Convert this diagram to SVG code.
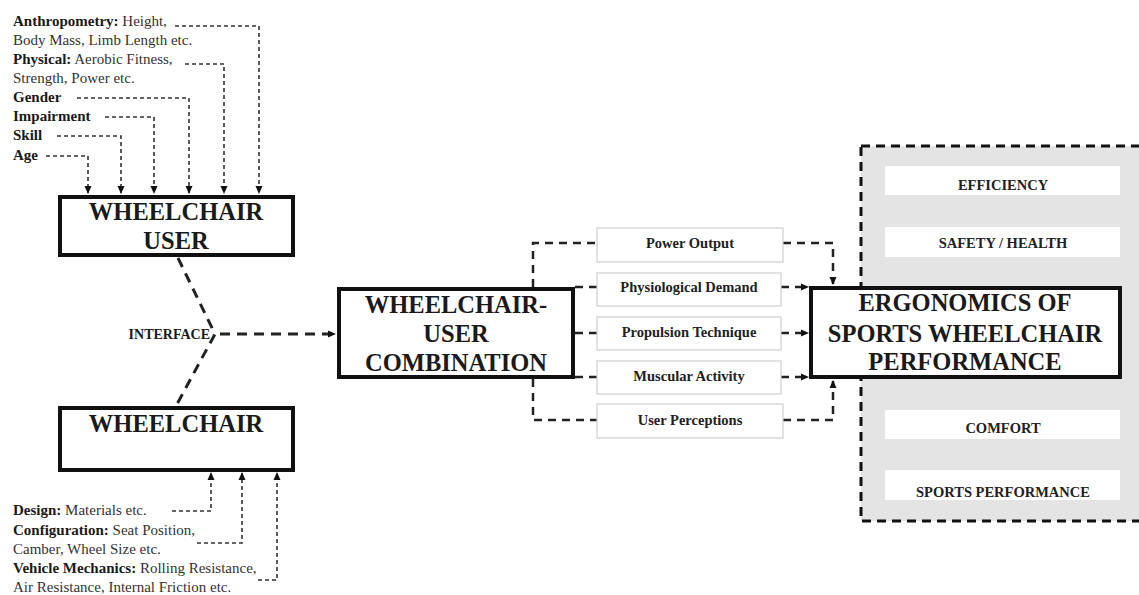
<svg xmlns="http://www.w3.org/2000/svg" width="1139" height="595" viewBox="0 0 1139 595">
<defs>
<marker id="ah" markerUnits="userSpaceOnUse" markerWidth="8" markerHeight="8" viewBox="0 0 8 8" refX="7" refY="4" orient="auto">
<path d="M0,0.5 L8,4 L0,7.5 Z" fill="#111"/>
</marker>
<style>
.t{font-family:"Liberation Serif","Times New Roman",serif;fill:#333;font-size:15px}
.b{font-weight:bold;fill:#1a1a1a}
.big{font-family:"Liberation Serif","Times New Roman",serif;font-weight:bold;font-size:24.5px;fill:#1a1a1a;text-anchor:middle}
.lbl{font-family:"Liberation Serif","Times New Roman",serif;font-weight:bold;font-size:14.5px;fill:#222;text-anchor:middle}
.node{fill:#fff;stroke:#111;stroke-width:4}
.sub{fill:#fff;stroke:#cfcfcf;stroke-width:1.2}
.thin{fill:none;stroke:#333;stroke-width:1.6;stroke-dasharray:4 3}
.mid{fill:none;stroke:#222;stroke-width:2.5;stroke-dasharray:8 6}
.thick{fill:none;stroke:#222;stroke-width:3;stroke-dasharray:10 7}
</style>
</defs>
<rect width="1139" height="595" fill="#fff"/>

<g id="outcomes-region">
<rect x="861" y="146" width="290" height="375" fill="#e4e4e4" stroke="#111" stroke-width="3" stroke-dasharray="9 6"/>
</g>
<g id="efficiency"><rect x="885" y="166" width="235" height="29" fill="#fff"/><text class="lbl" x="1003" y="190">EFFICIENCY</text></g>
<g id="safety"><rect x="885" y="227" width="235" height="30" fill="#fff"/><text class="lbl" x="1003" y="248">SAFETY / HEALTH</text></g>
<g id="comfort"><rect x="885" y="410" width="235" height="29" fill="#fff"/><text class="lbl" x="1003" y="433">COMFORT</text></g>
<g id="sports-performance"><rect x="885" y="470" width="235" height="30" fill="#fff"/><text class="lbl" x="1003" y="497">SPORTS PERFORMANCE</text></g>

<g id="user-factors">
<text class="t" x="13" y="26"><tspan class="b">Anthropometry:</tspan> Height,</text>
<text class="t" x="13" y="45">Body Mass, Limb Length etc.</text>
<text class="t" x="13" y="64"><tspan class="b">Physical:</tspan> Aerobic Fitness,</text>
<text class="t" x="13" y="83">Strength, Power etc.</text>
<text class="t b" x="13" y="102">Gender</text>
<text class="t b" x="13" y="121">Impairment</text>
<text class="t b" x="13" y="140">Skill</text>
<text class="t b" x="13" y="160">Age</text>
</g>

<g id="wheelchair-factors">
<text class="t" x="13" y="515"><tspan class="b">Design:</tspan> Materials etc.</text>
<text class="t" x="13" y="535"><tspan class="b">Configuration:</tspan> Seat Position,</text>
<text class="t" x="13" y="554">Camber, Wheel Size etc.</text>
<text class="t" x="13" y="573"><tspan class="b">Vehicle Mechanics:</tspan> Rolling Resistance,</text>
<text class="t" x="13" y="592">Air Resistance, Internal Friction etc.</text>
</g>

<g id="connectors">
<path class="thin" d="M175 26 H259 V193" marker-end="url(#ah)"/>
<path class="thin" d="M185 64 H224 V193" marker-end="url(#ah)"/>
<path class="thin" d="M77 98 H189 V193" marker-end="url(#ah)"/>
<path class="thin" d="M105 117 H154 V193" marker-end="url(#ah)"/>
<path class="thin" d="M57 136 H121 V193" marker-end="url(#ah)"/>
<path class="thin" d="M46 156 H88 V193" marker-end="url(#ah)"/>

<path class="thin" d="M172 511 H211 V473" marker-end="url(#ah)"/>
<path class="thin" d="M197 543 H242 V473" marker-end="url(#ah)"/>
<path class="thin" d="M258 580 H277 V473" marker-end="url(#ah)"/>

<path class="thick" d="M178 258 L215 334 L176 406"/>
<path class="thick" d="M220 334 H335" marker-end="url(#ah)"/>

<path class="mid" d="M533 287 V243 H597"/>
<path class="mid" d="M575 287 H597"/>
<path class="mid" d="M575 333 H597"/>
<path class="mid" d="M575 377 H597"/>
<path class="mid" d="M533 379 V420 H597"/>

<path class="mid" d="M783 243 H833 V284" marker-end="url(#ah)"/>
<path class="mid" d="M781 287 H808" marker-end="url(#ah)"/>
<path class="mid" d="M781 333 H808" marker-end="url(#ah)"/>
<path class="mid" d="M781 377 H808" marker-end="url(#ah)"/>
<path class="mid" d="M783 420 H833 V381" marker-end="url(#ah)"/>
</g>

<g id="wheelchair-user"><rect class="node" x="60" y="197" width="233" height="58"/>
<text class="big" x="176" y="220">WHEELCHAIR</text><text class="big" x="176" y="249">USER</text></g>

<g id="interface"><text class="t b" x="210" y="339" text-anchor="end" style="font-size:14px">INTERFACE</text></g>

<g id="wheelchair"><rect class="node" x="60" y="408" width="233" height="62"/>
<text class="big" x="176" y="432">WHEELCHAIR</text></g>

<g id="combination"><rect class="node" x="339" y="289" width="234" height="88"/>
<text class="big" x="456" y="313">WHEELCHAIR-</text><text class="big" x="456" y="342">USER</text><text class="big" x="456" y="371">COMBINATION</text></g>

<g id="power-output"><rect class="sub" x="597" y="228" width="186" height="34"/><text class="lbl" x="690" y="248">Power Output</text></g>
<g id="physiological-demand"><rect class="sub" x="597" y="273" width="184" height="33"/><text class="lbl" x="689" y="292">Physiological Demand</text></g>
<g id="propulsion-technique"><rect class="sub" x="597" y="317" width="184" height="33"/><text class="lbl" x="689" y="337">Propulsion Technique</text></g>
<g id="muscular-activity"><rect class="sub" x="597" y="361" width="184" height="33"/><text class="lbl" x="689" y="381">Muscular Activity</text></g>
<g id="user-perceptions"><rect class="sub" x="597" y="404" width="186" height="34"/><text class="lbl" x="690" y="425">User Perceptions</text></g>

<g id="ergonomics"><rect class="node" x="811" y="288" width="309" height="89"/>
<text class="big" x="965" y="311">ERGONOMICS OF</text><text class="big" x="965" y="342">SPORTS WHEELCHAIR</text><text class="big" x="965" y="370">PERFORMANCE</text></g>
</svg>
